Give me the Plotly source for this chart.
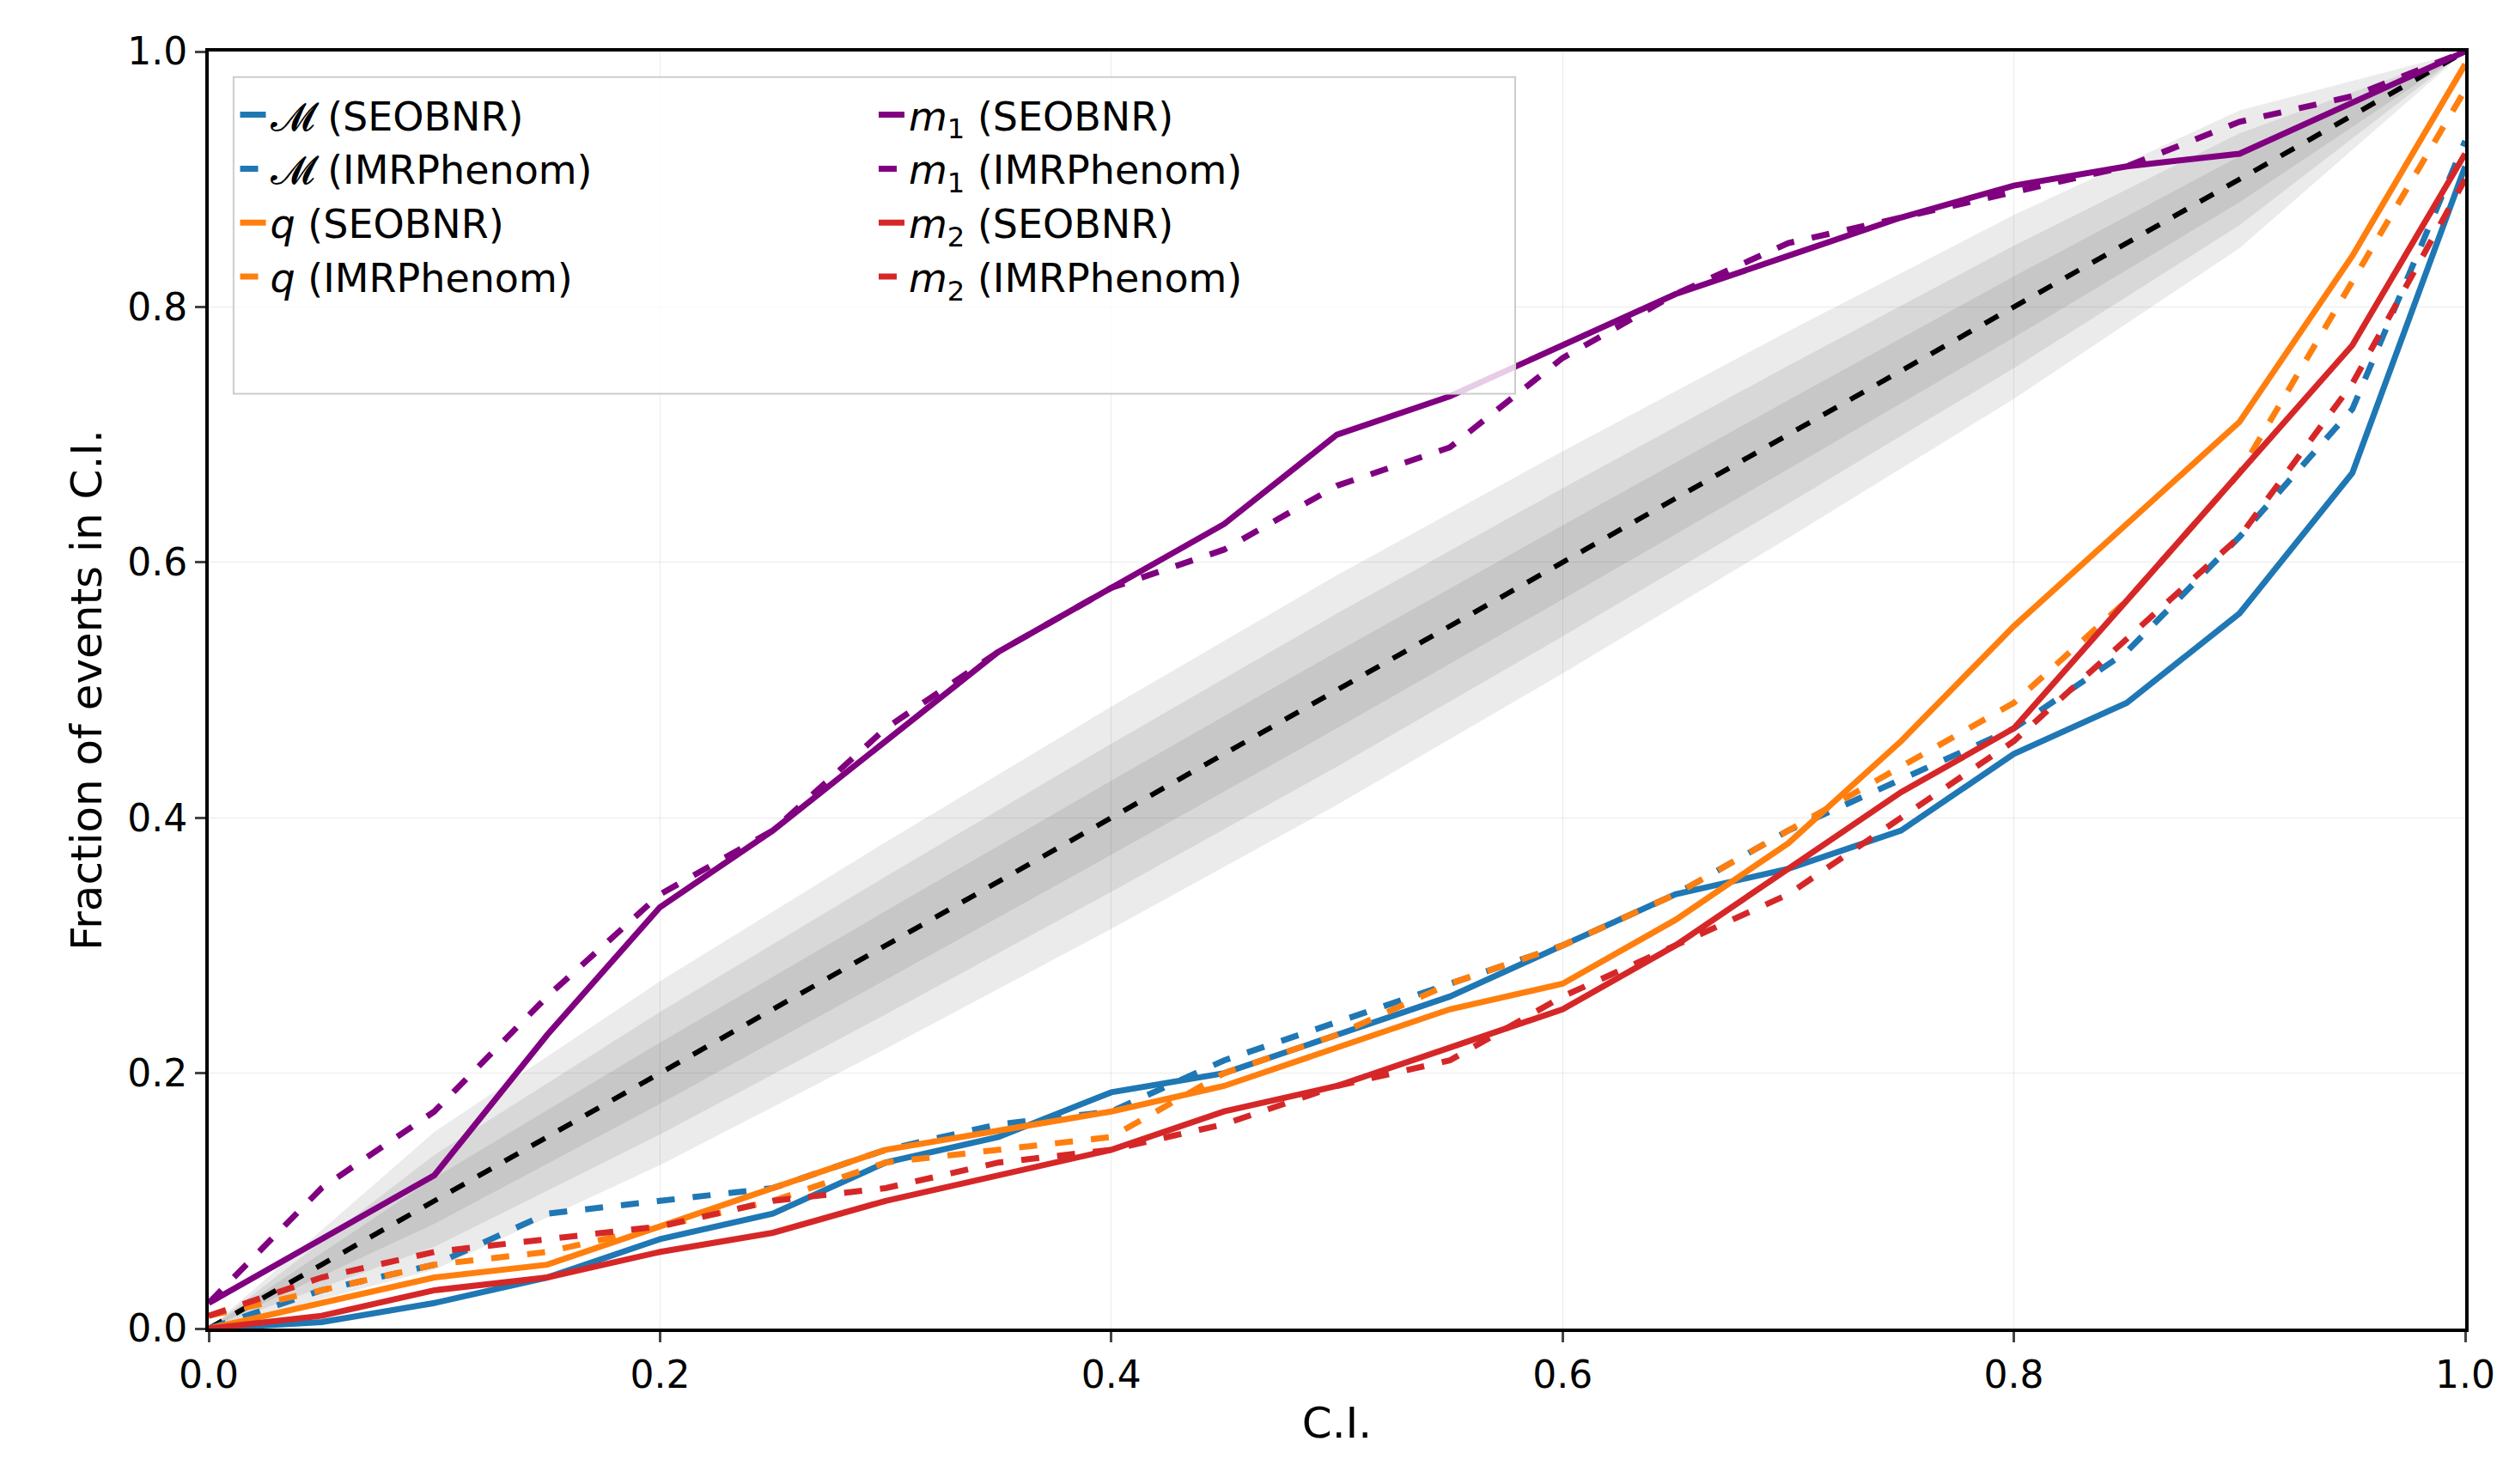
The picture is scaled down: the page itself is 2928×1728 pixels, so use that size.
import plotly.graph_objects as go

# --- data ---
ci = [0, 0.05, 0.1, 0.15, 0.2, 0.25, 0.3, 0.35, 0.4, 0.45, 0.5,
      0.55, 0.6, 0.65, 0.7, 0.75, 0.8, 0.85, 0.9, 0.95, 1.0]

mc_seob = [0, 0.005, 0.02, 0.04, 0.07, 0.09, 0.13, 0.15, 0.185, 0.2, 0.23,
           0.26, 0.30, 0.34, 0.36, 0.39, 0.45, 0.49, 0.56, 0.67, 0.91]
mc_imr = [0, 0.03, 0.05, 0.09, 0.10, 0.11, 0.14, 0.16, 0.17, 0.21, 0.24,
          0.27, 0.30, 0.34, 0.39, 0.43, 0.47, 0.53, 0.62, 0.72, 0.93]
q_seob = [0, 0.02, 0.04, 0.05, 0.08, 0.11, 0.14, 0.155, 0.17, 0.19, 0.22,
          0.25, 0.27, 0.32, 0.38, 0.46, 0.55, 0.63, 0.71, 0.84, 0.99]
q_imr = [0.01, 0.03, 0.05, 0.06, 0.08, 0.10, 0.13, 0.14, 0.15, 0.20, 0.23,
         0.27, 0.30, 0.34, 0.39, 0.44, 0.49, 0.57, 0.67, 0.82, 0.97]
m1_seob = [0.02, 0.07, 0.12, 0.23, 0.33, 0.39, 0.46, 0.53, 0.58, 0.63, 0.70,
           0.73, 0.77, 0.81, 0.84, 0.87, 0.895, 0.91, 0.92, 0.96, 1.0]
m1_imr = [0.02, 0.11, 0.17, 0.26, 0.34, 0.39, 0.47, 0.53, 0.58, 0.61, 0.66,
          0.69, 0.76, 0.81, 0.85, 0.87, 0.89, 0.91, 0.945, 0.965, 1.0]
m2_seob = [0, 0.01, 0.03, 0.04, 0.06, 0.075, 0.10, 0.12, 0.14, 0.17, 0.19,
           0.22, 0.25, 0.30, 0.36, 0.42, 0.47, 0.57, 0.67, 0.77, 0.92]
m2_imr = [0.01, 0.04, 0.06, 0.07, 0.08, 0.10, 0.11, 0.13, 0.14, 0.16, 0.19,
          0.21, 0.26, 0.30, 0.34, 0.40, 0.46, 0.54, 0.62, 0.74, 0.90]

# 1-sigma width of the credible bands
band_x = [0, 0.1, 0.2, 0.3, 0.4, 0.5, 0.6, 0.7, 0.8, 0.9, 1.0]
band_sigma = [0, 0.018, 0.024, 0.027, 0.029, 0.030, 0.029, 0.027, 0.024, 0.018, 0]

fig = go.Figure()

# grey confidence bands (1, 2, 3 sigma)
for k in [3, 2, 1]:
    lo = [x - k * s for x, s in zip(band_x, band_sigma)]
    hi = [x + k * s for x, s in zip(band_x, band_sigma)]
    fig.add_trace(go.Scatter(x=band_x + band_x[::-1], y=hi + lo[::-1], fill="toself",
                             fillcolor="rgba(0,0,0,0.08)", line=dict(width=0),
                             showlegend=False, hoverinfo="skip"))

fig.add_trace(go.Scatter(x=[0, 1], y=[0, 1], mode="lines",
                         line=dict(color="black", width=6, dash="dash"), showlegend=False))

series = [
    ("𝓜 (SEOBNR)", mc_seob, "#1f77b4", "solid", "legend"),
    ("𝓜 (IMRPhenom)", mc_imr, "#1f77b4", "dash", "legend"),
    ("<i>q</i> (SEOBNR)", q_seob, "#ff7f0e", "solid", "legend"),
    ("<i>q</i> (IMRPhenom)", q_imr, "#ff7f0e", "dash", "legend"),
    ("<i>m</i><sub>1</sub> (SEOBNR)", m1_seob, "#800080", "solid", "legend2"),
    ("<i>m</i><sub>1</sub> (IMRPhenom)", m1_imr, "#800080", "dash", "legend2"),
    ("<i>m</i><sub>2</sub> (SEOBNR)", m2_seob, "#d62728", "solid", "legend2"),
    ("<i>m</i><sub>2</sub> (IMRPhenom)", m2_imr, "#d62728", "dash", "legend2"),
]
for name, y, color, dash, leg in series:
    fig.add_trace(go.Scatter(x=ci, y=y, mode="lines", name=name, legend=leg,
                             line=dict(color=color, width=7, dash=dash)))

axis = dict(range=[0, 1], showline=True, linecolor="black", linewidth=4, mirror=True,
            ticks="outside", ticklen=12, tickwidth=3, dtick=0.2, tickformat=".1f",
            showgrid=True, gridcolor="rgba(0,0,0,0.08)", zeroline=False,
            tickfont=dict(size=44))

leg_common = dict(yanchor="top", xanchor="left", y=0.975, font=dict(size=46),
                  bgcolor="rgba(0,0,0,0)", borderwidth=0, tracegroupgap=4)

fig.update_layout(
    width=2928, height=1728,
    margin=dict(l=235, r=66, t=52, b=189),
    plot_bgcolor="white", paper_bgcolor="white",
    font=dict(family="DejaVu Sans", color="black"),
    xaxis=dict(axis, title=dict(text="C.I.", font=dict(size=50))),
    yaxis=dict(axis, title=dict(text="Fraction of events in C.I.", font=dict(size=50))),
    legend=dict(leg_common, x=0.012),
    legend2=dict(leg_common, x=0.295),
)
# one shared legend frame
fig.add_shape(type="rect", xref="paper", yref="paper", x0=0.011, x1=0.579, y0=0.732, y1=0.98,
              fillcolor="rgba(255,255,255,0.8)", line=dict(color="#cccccc", width=2), layer="above")

fig.write_html("out.html")
